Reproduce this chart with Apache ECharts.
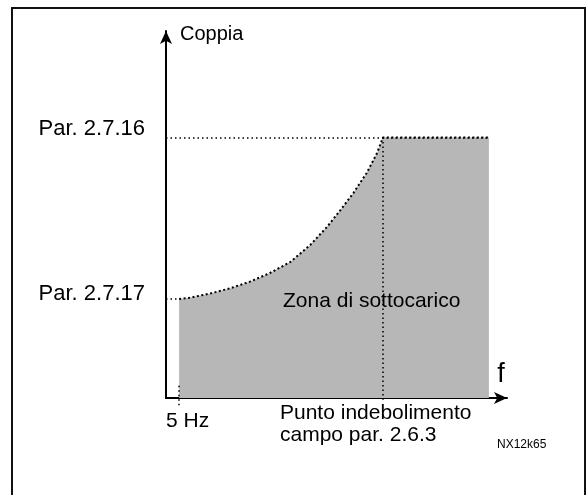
<!DOCTYPE html>
<html>
<head>
<meta charset="utf-8">
<script src="https://cdn.jsdelivr.net/npm/echarts@6/dist/echarts.min.js"></script>
<style>
    html, body { margin: 0; padding: 0; background: #fff; }
    #main { width: 588px; height: 495px; }
</style>
</head>
<body>
<div id="main"></div>
<script>
// underload curve: frequency (arbitrary units, 5 = 5 Hz) vs torque (0..100)
let curveFreq = [5, 9, 17, 24.5, 32, 39.5, 47.5, 55, 61.5, 66.5, 71.5, 76.5, 80.5, 82.7, 123.1];
let curveTorque = [27, 27.3, 28.5, 29.9, 31.7, 34, 37.1, 41.7, 46.7, 51.2, 55.9, 61.3, 66.8, 71, 71];

let startFreq = 5;          // 5 Hz
let weakeningFreq = 82.7;   // Punto indebolimento campo
let endFreq = 123.1;
let torqueHigh = 71;        // Par. 2.7.16
let torqueLow = 27;         // Par. 2.7.17

let yTickValues = [torqueLow, torqueHigh];
let yTickLabels = {};
yTickLabels[torqueLow] = '{lo|Par. 2.7.17}';
yTickLabels[torqueHigh] = '{hi|Par. 2.7.16}';

let xMax = 130;
let yMax = 100;

const fontFamily = '"Liberation Sans", Arial, sans-serif';
const dotted = { color: '#000', width: 1.5, type: [1.5, 3] };
const labelFont = { fontFamily: fontFamily, fontSize: 22, color: '#000' };

let chart = echarts.init(document.querySelector('#main'));

const option = {
    animation: false,
    backgroundColor: '#fff',
    grid: [
        // data grid (goes a bit below zero for ticks under the axis)
        { left: 166, right: 81, top: 31, bottom: 75 },
        // axis grid
        { left: 166, right: 81, top: 31, bottom: 97 }
    ],
    xAxis: [
        { gridIndex: 0, type: 'value', min: 0, max: xMax, show: false },
        {
            gridIndex: 1, type: 'value', min: 0, max: xMax,
            name: 'f', nameLocation: 'end', nameGap: -6,
            nameTextStyle: { fontFamily: fontFamily, fontSize: 27, color: '#000', align: 'center', verticalAlign: 'bottom', padding: [0, 0, 10, 0] },
            axisLine: { show: true, symbol: ['none', 'arrow'], symbolSize: [9, 13], lineStyle: { color: '#000', width: 2 } },
            axisTick: { show: false }, axisLabel: { show: false }, splitLine: { show: false }
        }
    ],
    yAxis: [
        { gridIndex: 0, type: 'value', min: -6, max: yMax, show: false },
        {
            gridIndex: 1, type: 'value', min: 0, max: yMax,
            name: 'Coppia', nameLocation: 'end', nameGap: -3,
            nameTextStyle: { fontFamily: fontFamily, fontSize: 20, color: '#000', align: 'left', verticalAlign: 'middle', padding: [0, 0, 0, 14] },
            axisLine: { show: true, symbol: ['none', 'arrow'], symbolSize: [9, 13], lineStyle: { color: '#000', width: 2 } },
            axisTick: { show: false },
            axisLabel: {
                show: true, customValues: yTickValues, margin: 21,
                formatter: v => yTickLabels[v] || '',
                rich: {
                    hi: Object.assign({ padding: [0, 0, 16, 0] }, labelFont),
                    lo: Object.assign({ padding: [0, 0, 9, 0] }, labelFont)
                }
            },
            splitLine: { show: false }
        }
    ],
    graphic: [
        { type: 'rect', shape: { x: 12, y: 8, width: 573, height: 510 }, style: { fill: 'none', stroke: '#111', lineWidth: 2 }, z: 100 },
        { type: 'text', left: 283, top: 291, style: { text: 'Zona di sottocarico', fontFamily: fontFamily, fontSize: 21, fill: '#000' }, z: 100 },
        { type: 'text', left: 166, top: 411, style: { text: '5 Hz', fontFamily: fontFamily, fontSize: 21, fill: '#000' }, z: 100 },
        { type: 'text', left: 280, top: 402, style: { text: 'Punto indebolimento\ncampo par. 2.6.3', fontFamily: fontFamily, fontSize: 21, lineHeight: 22, fill: '#000' }, z: 100 },
        { type: 'text', left: 497, top: 439, style: { text: 'NX12k65', fontFamily: fontFamily, fontSize: 12, fill: '#000' }, z: 100 }
    ],
    series: [{
        name: 'Zona di sottocarico',
        type: 'line',
        xAxisIndex: 0,
        yAxisIndex: 0,
        data: curveFreq.map((f, i) => [f, curveTorque[i]]),
        showSymbol: false,
        smooth: false,
        lineStyle: { color: '#000', width: 2, type: [2, 2.5] },
        areaStyle: { color: '#b7b7b7', opacity: 1, origin: 'auto' },
        markLine: {
            silent: true,
            symbol: ['none', 'none'],
            label: { show: false },
            lineStyle: dotted,
            data: [
                [{ coord: [0, torqueHigh] }, { coord: [endFreq, torqueHigh] }],
                [{ coord: [0, torqueLow] }, { coord: [startFreq, torqueLow] }],
                [{ coord: [weakeningFreq, torqueHigh] }, { coord: [weakeningFreq, -0.5] }],
                [{ coord: [startFreq, 3.3] }, { coord: [startFreq, -2.5] }]
            ]
        }
    }]
};

chart.setOption(option);
</script>
</body>
</html>
